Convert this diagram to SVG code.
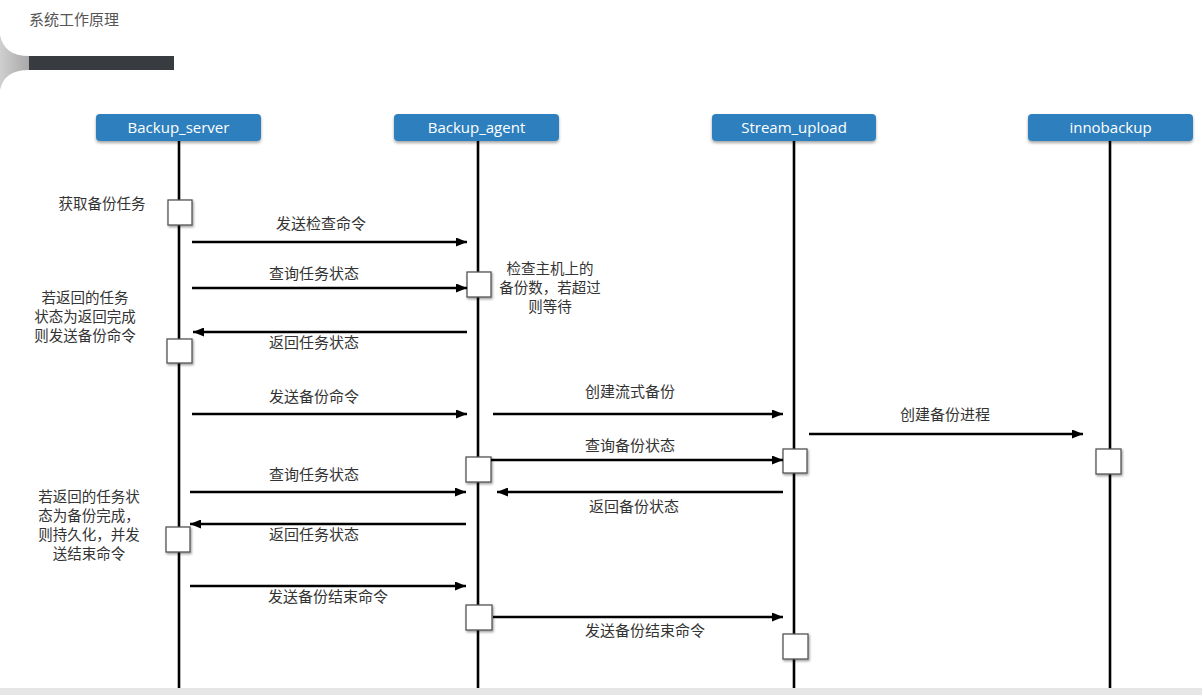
<svg xmlns="http://www.w3.org/2000/svg" width="1202" height="695" viewBox="0 0 1202 695">
<style>
.hdr{fill:#2f7fbe;filter:url(#sh)}
.hdrt{fill:#ffffff;font-family:"Open Sans","Noto Sans",sans-serif;font-size:15px;text-anchor:middle}
.life{stroke:#000;stroke-width:2.6;fill:none}
.act{fill:#fff;stroke:#555;stroke-width:1.3;filter:url(#sh2)}
.msg{stroke:#000;stroke-width:2.4;fill:none}
.lbl{fill:#333;font-family:"Noto Sans CJK SC","Noto Sans",sans-serif;font-size:15px;text-anchor:middle}
.note{fill:#333;font-family:"Noto Sans CJK SC","Noto Sans",sans-serif;font-size:14.5px;text-anchor:middle}
</style>
<defs>
<filter id="sh" x="-10%" y="-30%" width="120%" height="170%"><feDropShadow dx="0" dy="2" stdDeviation="1.5" flood-color="#000" flood-opacity="0.35"/></filter>
<filter id="sh2" x="-30%" y="-30%" width="170%" height="170%"><feDropShadow dx="1" dy="1.5" stdDeviation="1.2" flood-color="#000" flood-opacity="0.4"/></filter>
<linearGradient id="gd" x1="0" y1="0" x2="1" y2="0"><stop offset="0" stop-color="#cfcfcf"/><stop offset="1" stop-color="#a8a8a8"/></linearGradient>
<marker id="ah" markerUnits="userSpaceOnUse" markerWidth="11" markerHeight="9" refX="11" refY="4.5" orient="auto"><path d="M0,0 L11,4.5 L0,9 z" fill="#000"/></marker>
</defs>
<rect x="0" y="0" width="1202" height="695" fill="#fff"/>
<rect x="0" y="688" width="1202" height="7" fill="#e6e6e6"/>
<text x="29" y="25" fill="#555" font-family="Noto Sans CJK SC,sans-serif" font-size="15">系统工作原理</text>
<path d="M0,35 Q4,56 29,56 L29,70 Q4,70 0,90 Z" fill="url(#gd)"/>
<rect x="29" y="56" width="145" height="14" fill="#383c40"/>

<g id="backup_server">
<line class="life" x1="179" y1="141" x2="179" y2="688"/>
<rect class="hdr" x="96" y="114" width="165" height="27" rx="4"/>
<text class="hdrt" x="178.5" y="133">Backup_server</text>
<rect class="act" x="168" y="200" width="24" height="25"/>
<rect class="act" x="167" y="339" width="25" height="24"/>
<rect class="act" x="166" y="527" width="24" height="25"/>
</g>
<g id="backup_agent">
<line class="life" x1="478" y1="141" x2="478" y2="688"/>
<rect class="hdr" x="394" y="114" width="165" height="27" rx="4"/>
<text class="hdrt" x="476.5" y="133">Backup_agent</text>
<rect class="act" x="467" y="272" width="24" height="25"/>
<rect class="act" x="466" y="457" width="25" height="25"/>
<rect class="act" x="466" y="605" width="26" height="25"/>
</g>
<g id="stream_upload">
<line class="life" x1="794" y1="141" x2="794" y2="688"/>
<rect class="hdr" x="712" y="114" width="164" height="27" rx="4"/>
<text class="hdrt" x="794" y="133">Stream_upload</text>
<rect class="act" x="783" y="449" width="24" height="24"/>
<rect class="act" x="783" y="634" width="25" height="25"/>
</g>
<g id="innobackup">
<line class="life" x1="1110" y1="141" x2="1110" y2="688"/>
<rect class="hdr" x="1028" y="114" width="165" height="27" rx="4"/>
<text class="hdrt" x="1110.5" y="133">innobackup</text>
<rect class="act" x="1096" y="449" width="25" height="25"/>
</g>

<g id="notes">
<text class="note" x="102" y="209">获取备份任务</text>
<text class="note" x="85" y="303">若返回的任务</text>
<text class="note" x="85" y="322">状态为返回完成</text>
<text class="note" x="85" y="341">则发送备份命令</text>
<text class="note" x="550" y="274">检查主机上的</text>
<text class="note" x="550" y="293">备份数，若超过</text>
<text class="note" x="550" y="312">则等待</text>
<text class="note" x="89" y="502">若返回的任务状</text>
<text class="note" x="89" y="521">态为备份完成，</text>
<text class="note" x="89" y="540">则持久化，并发</text>
<text class="note" x="89" y="559">送结束命令</text>
</g>

<g id="connectors">
<line class="msg" x1="192" y1="242" x2="467" y2="242" marker-end="url(#ah)"/>
<text class="lbl" x="321" y="229">发送检查命令</text>
<line class="msg" x1="192" y1="288" x2="467" y2="288" marker-end="url(#ah)"/>
<text class="lbl" x="314" y="279">查询任务状态</text>
<line class="msg" x1="467" y1="332" x2="193" y2="332" marker-end="url(#ah)"/>
<text class="lbl" x="314" y="348">返回任务状态</text>
<line class="msg" x1="192" y1="414" x2="467" y2="414" marker-end="url(#ah)"/>
<text class="lbl" x="314" y="402">发送备份命令</text>
<line class="msg" x1="493" y1="414" x2="783" y2="414" marker-end="url(#ah)"/>
<text class="lbl" x="630" y="397">创建流式备份</text>
<line class="msg" x1="809" y1="434" x2="1083" y2="434" marker-end="url(#ah)"/>
<text class="lbl" x="945" y="420">创建备份进程</text>
<line class="msg" x1="491" y1="460" x2="783" y2="460" marker-end="url(#ah)"/>
<text class="lbl" x="630" y="451">查询备份状态</text>
<line class="msg" x1="783" y1="492" x2="497" y2="492" marker-end="url(#ah)"/>
<text class="lbl" x="634" y="512">返回备份状态</text>
<line class="msg" x1="190" y1="492" x2="466" y2="492" marker-end="url(#ah)"/>
<text class="lbl" x="314" y="480">查询任务状态</text>
<line class="msg" x1="466" y1="524" x2="190" y2="524" marker-end="url(#ah)"/>
<text class="lbl" x="314" y="540">返回任务状态</text>
<line class="msg" x1="190" y1="586" x2="466" y2="586" marker-end="url(#ah)"/>
<text class="lbl" x="328" y="602">发送备份结束命令</text>
<line class="msg" x1="493" y1="617" x2="783" y2="617" marker-end="url(#ah)"/>
<text class="lbl" x="645" y="636">发送备份结束命令</text>
</g>
</svg>
